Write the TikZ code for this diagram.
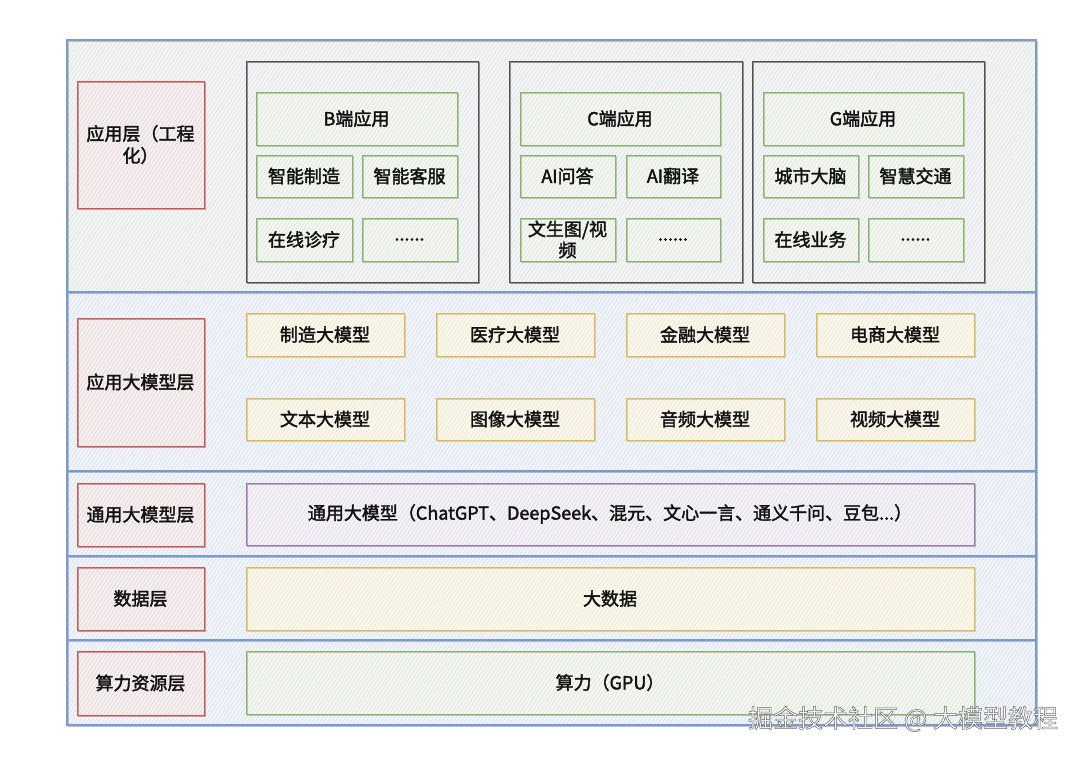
\documentclass[tikz,border=0pt]{standalone}
\usepackage{fontspec}
\setmainfont{Noto Sans CJK SC}
\usetikzlibrary{patterns.meta}
\definecolor{lbS}{HTML}{7F9AC6}\definecolor{lbF}{HTML}{F2F5FA}\definecolor{lbH}{HTML}{CBD6E9}
\definecolor{l1S}{HTML}{8FB08A}\definecolor{l1F}{HTML}{F4F6F5}\definecolor{l1H}{HTML}{D2D9D5}
\definecolor{rdS}{HTML}{C8585A}\definecolor{rdF}{HTML}{F6F1F1}\definecolor{rdH}{HTML}{DEC6C6}
\definecolor{grS}{HTML}{8AB374}\definecolor{grF}{HTML}{F4F7F2}\definecolor{grH}{HTML}{D2DECB}
\definecolor{ylS}{HTML}{D8BA62}\definecolor{ylF}{HTML}{FAF8EF}\definecolor{ylH}{HTML}{E8DFBE}
\definecolor{puS}{HTML}{9A7AAB}\definecolor{puF}{HTML}{F6F3F7}\definecolor{puH}{HTML}{D9CEE0}
\definecolor{gyS}{HTML}{4F5256}\definecolor{gyF}{HTML}{F4F5F6}\definecolor{gyH}{HTML}{D3D6DB}
\definecolor{txt}{HTML}{111111}
\newcommand\heavytext{\special{pdf:literal direct 2 Tr 0.35 w}}
\newcommand\plaintext{\special{pdf:literal direct 0 Tr}}
\begin{document}
\begin{tikzpicture}[x=1pt,y=-1pt,
  hatch/.style 2 args={preaction={fill=#1},pattern={Lines[angle=57,distance=3.2pt,line width=0.4pt]},pattern color=#2},
  sketch/.style={postaction={draw=#1,line width=0.5pt,draw opacity=0.6,transform canvas={shift={(0.8pt,-0.8pt)}}}},
  base/.style={anchor=north west,inner sep=0pt,outer sep=0pt,align=center,text=txt,
    font=\fontsize{18}{22}\selectfont,line width=1pt,
    execute at begin node=\heavytext, execute at end node=\plaintext},
  layerbox/.style={base,draw=lbS,line width=1.3pt,hatch={lbF}{lbH},sketch=lbS},
  toplayer/.style={base,draw=lbS,line width=1.3pt,hatch={l1F}{l1H},sketch=l1S},
  redbox/.style={base,draw=rdS,hatch={rdF}{rdH},sketch=rdS},
  greenbox/.style={base,draw=grS,hatch={grF}{grH},sketch=grS},
  yellowbox/.style={base,draw=ylS,hatch={ylF}{ylH},sketch=ylS},
  purplebox/.style={base,draw=puS,hatch={puF}{puH},sketch=puS},
  groupbox/.style={base,draw=gyS,hatch={gyF}{gyH},sketch=gyS}]
\useasboundingbox (0,0) rectangle (1080,756);
\fill[white] (0,0) rectangle (1080,756);
% layers
\node[toplayer,minimum width=969pt,minimum height=252pt] (lay1) at (67,40) {};
\node[layerbox,minimum width=969pt,minimum height=179pt] (lay2) at (67,292) {};
\node[layerbox,minimum width=969pt,minimum height=85pt] (lay3) at (67,471) {};
\node[layerbox,minimum width=969pt,minimum height=84pt] (lay4) at (67,556) {};
\node[layerbox,minimum width=969pt,minimum height=85pt] (lay5) at (67,640) {};
% labels
\node[redbox,minimum width=127pt,minimum height=127pt] (lab1) at (77,81) {应用层（工程\\化）};
\node[redbox,minimum width=127pt,minimum height=128pt] (lab2) at (77,318) {应用大模型层};
\node[redbox,minimum width=127pt,minimum height=63pt] (lab3) at (77,483) {通用大模型层};
\node[redbox,minimum width=127pt,minimum height=63pt] (lab4) at (77,567) {数据层};
\node[redbox,minimum width=127pt,minimum height=64pt] (lab5) at (77,651) {算力资源层};
% wide boxes
\node[purplebox,minimum width=728pt,minimum height=62pt] (general) at (246,483) {通用大模型（ChatGPT、DeepSeek、混元、文心一言、通义千问、豆包...）};
\node[yellowbox,minimum width=728pt,minimum height=63pt] (data) at (246,567) {大数据};
\node[greenbox,minimum width=728pt,minimum height=63pt] (compute) at (246,651) {算力（GPU）};
% domain models
\node[yellowbox,minimum width=158pt,minimum height=43pt] (m1) at (246,313) {制造大模型};
\node[yellowbox,minimum width=158pt,minimum height=43pt] (m2) at (436,313) {医疗大模型};
\node[yellowbox,minimum width=158pt,minimum height=43pt] (m3) at (626,313) {金融大模型};
\node[yellowbox,minimum width=158pt,minimum height=43pt] (m4) at (816,313) {电商大模型};
\node[yellowbox,minimum width=158pt,minimum height=42pt] (m5) at (246,398) {文本大模型};
\node[yellowbox,minimum width=158pt,minimum height=42pt] (m6) at (436,398) {图像大模型};
\node[yellowbox,minimum width=158pt,minimum height=42pt] (m7) at (626,398) {音频大模型};
\node[yellowbox,minimum width=158pt,minimum height=42pt] (m8) at (816,398) {视频大模型};
% application groups
\node[groupbox,minimum width=232pt,minimum height=221pt] (grpB) at (246,61) {};
\node[groupbox,minimum width=233pt,minimum height=221pt] (grpC) at (509,61) {};
\node[groupbox,minimum width=232pt,minimum height=221pt] (grpG) at (752,61) {};
% B
\node[greenbox,minimum width=201pt,minimum height=53pt] (bh) at (256,92) {B端应用};
\node[greenbox,minimum width=96pt,minimum height=42pt] (b1) at (256,155) {智能制造};
\node[greenbox,minimum width=95pt,minimum height=42pt] (b2) at (362,155) {智能客服};
\node[greenbox,minimum width=96pt,minimum height=43pt] (b3) at (256,218) {在线诊疗};
\node[greenbox,minimum width=95pt,minimum height=43pt] (b4) at (362,218) {......};
% C
\node[greenbox,minimum width=200pt,minimum height=53pt] (ch) at (520,92) {C端应用};
\node[greenbox,minimum width=95pt,minimum height=42pt] (c1) at (520,155) {AI问答};
\node[greenbox,minimum width=94pt,minimum height=42pt] (c2) at (626,155) {AI翻译};
\node[greenbox,minimum width=95pt,minimum height=43pt,font=\fontsize{18}{21}\selectfont] (c3) at (520,218) {文生图/视\\频};
\node[greenbox,minimum width=94pt,minimum height=43pt] (c4) at (626,218) {......};
% G
\node[greenbox,minimum width=200pt,minimum height=53pt] (gh) at (763,92) {G端应用};
\node[greenbox,minimum width=95pt,minimum height=42pt] (g1) at (763,155) {城市大脑};
\node[greenbox,minimum width=95pt,minimum height=42pt] (g2) at (868,155) {智慧交通};
\node[greenbox,minimum width=95pt,minimum height=43pt] (g3) at (763,218) {在线业务};
\node[greenbox,minimum width=95pt,minimum height=43pt] (g4) at (868,218) {......};
% watermark
\node[inner sep=0pt,text=white,font=\fontsize{25}{28}\selectfont] (wm) at (903,719)
  {\special{pdf:literal direct 2 Tr 0.5 w 0.4 0.4 0.4 RG}掘金技术社区 @ 大模型教程\plaintext};
\end{tikzpicture}
\end{document}
